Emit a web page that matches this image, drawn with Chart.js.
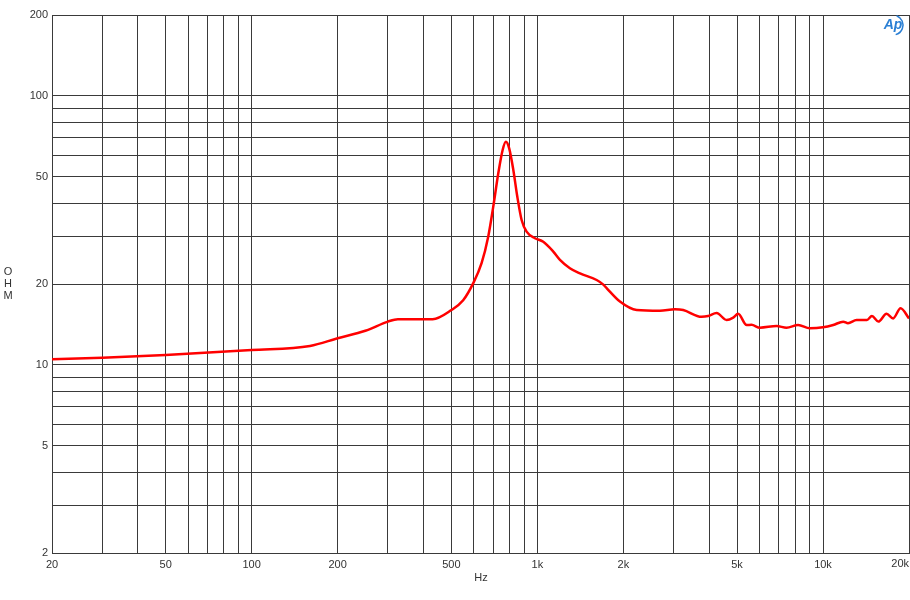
<!DOCTYPE html>
<html>
<head>
<meta charset="utf-8">
<script src="https://cdn.jsdelivr.net/npm/chart.js@4/dist/chart.umd.min.js"></script>
<style>
  html, body { margin: 0; padding: 0; background: #fff; }
  #wrap { width: 910px; height: 600px; position: relative; }
</style>
</head>
<body>
<div id="wrap"><canvas id="chart"></canvas></div>
<script>
// impedance curve
const freqs = [20, 30, 50, 100, 160, 200, 250, 300, 325, 430, 500, 550, 596, 638, 673, 701, 730, 756, 776, 797,
  824, 851, 881, 917, 981, 1049, 1137, 1200, 1300, 1410, 1613, 1702, 1748, 1946, 2227, 2686, 3031, 3240, 3758, 3960,
  4242, 4597, 4850, 5045, 5402, 5620, 6014, 6882, 7450, 8185, 8990, 10000, 10860, 11770, 12230, 13110, 14250, 14830,
  15620, 16690, 17600, 18690, 20000];
const ohms = [10.5, 10.64, 10.9, 11.37, 11.77, 12.57, 13.4, 14.5, 14.8, 14.8, 16.0, 17.4, 20.1, 23.9, 30.0, 38.8, 51.6, 63.0, 67.6, 63.9,
  53.1, 42.2, 34.6, 31.3, 29.6, 28.7, 26.4, 24.6, 22.9, 21.9, 20.7, 19.9, 19.3, 17.2, 16.0, 15.9, 16.1, 16.0, 15.1, 15.2,
  15.6, 14.7, 15.0, 15.5, 14.08, 14.1, 13.76, 13.96, 13.76, 14.08, 13.69, 13.8, 14.08, 14.49, 14.3, 14.7, 14.7, 15.2,
  14.5, 15.5, 14.9, 16.25, 14.9];

const xGrid = [20, 30, 40, 50, 60, 70, 80, 90, 100, 200, 300, 400, 500, 600, 700, 800, 900, 1000,
  2000, 3000, 4000, 5000, 6000, 7000, 8000, 9000, 10000, 20000];
const xLabels = [20, 50, 100, 200, 500, 1000, 2000, 5000, 10000, 20000];
const yGrid = [2, 3, 4, 5, 6, 7, 8, 9, 10, 20, 30, 40, 50, 60, 70, 80, 90, 100, 200];
const yLabels = [2, 5, 10, 20, 50, 100, 200];

const gridColor = '#3a3a3a';
const textColor = '#333';
const font = { family: 'Liberation Sans, Arial, sans-serif', size: 11 };

let points = [];
for (let i = 0; i < freqs.length; i++) {
  points.push({ x: freqs[i], y: ohms[i] });
}

function fmtHz(v) {
  if (v >= 1000) return (v / 1000) + 'k';
  return String(v);
}

// axis titles, the right-edge label and the little AP mark
const extras = {
  id: 'extras',
  afterDraw(chart) {
    const ctx = chart.ctx;
    const area = chart.chartArea;
    const lastX = xLabels[xLabels.length - 1];
    ctx.save();
    ctx.fillStyle = textColor;
    ctx.font = '11px Liberation Sans, Arial, sans-serif';
    ctx.textAlign = 'right';
    ctx.textBaseline = 'top';
    ctx.fillText(fmtHz(lastX), chart.scales.x.getPixelForValue(lastX), area.bottom + 5);

    ctx.textAlign = 'center';
    ctx.textBaseline = 'middle';
    ctx.fillText('Hz', 481, 578);
    ctx.fillText('O', 8, 272);
    ctx.fillText('H', 8, 284);
    ctx.fillText('M', 8, 296);

    ctx.fillStyle = '#2a7fd4';
    ctx.font = 'italic bold 14px Liberation Sans, Arial, sans-serif';
    ctx.fillText('Ap', 893, 25);
    ctx.strokeStyle = '#2a7fd4';
    ctx.lineWidth = 1.5;
    ctx.beginPath();
    ctx.arc(893, 25, 10, -1.2, 1.3);
    ctx.stroke();
    ctx.restore();
  }
};

new Chart(document.getElementById('chart'), {
  type: 'line',
  data: {
    datasets: [{
      data: points,
      borderColor: '#ff0000',
      borderWidth: 2.5,
      pointRadius: 0,
      fill: false,
      cubicInterpolationMode: 'monotone'
    }]
  },
  options: {
    responsive: true,
    maintainAspectRatio: false,
    animation: false,
    layout: { padding: { top: 15, right: 1, left: 0, bottom: 0 } },
    plugins: { legend: { display: false }, tooltip: { enabled: false } },
    scales: {
      x: {
        type: 'logarithmic',
        min: 20,
        max: 20000,
        afterBuildTicks: (axis) => { axis.ticks = xGrid.map(v => ({ value: v })); },
        afterFit: (scale) => {
          scale.height = 47;
          scale.paddingLeft = 0;
          scale.paddingRight = 0;
        },
        grid: { color: gridColor, lineWidth: 1, drawTicks: false },
        border: { color: gridColor },
        ticks: {
          autoSkip: false,
          maxRotation: 0,
          padding: 5,
          color: textColor,
          font: font,
          // the last label is drawn by the plugin, right-aligned
          callback: (v) => (xLabels.includes(v) && v !== 20000) ? fmtHz(v) : ''
        }
      },
      y: {
        type: 'logarithmic',
        min: 2,
        max: 200,
        afterBuildTicks: (axis) => { axis.ticks = yGrid.map(v => ({ value: v })); },
        afterFit: (scale) => {
          scale.width = 52;
          scale.paddingTop = 0;
          scale.paddingBottom = 0;
        },
        grid: { color: gridColor, lineWidth: 1, drawTicks: false },
        border: { color: gridColor },
        ticks: {
          autoSkip: false,
          padding: 4,
          color: textColor,
          font: font,
          callback: (v) => yLabels.includes(v) ? String(v) : ''
        }
      }
    }
  },
  plugins: [extras]
});
</script>
</body>
</html>
